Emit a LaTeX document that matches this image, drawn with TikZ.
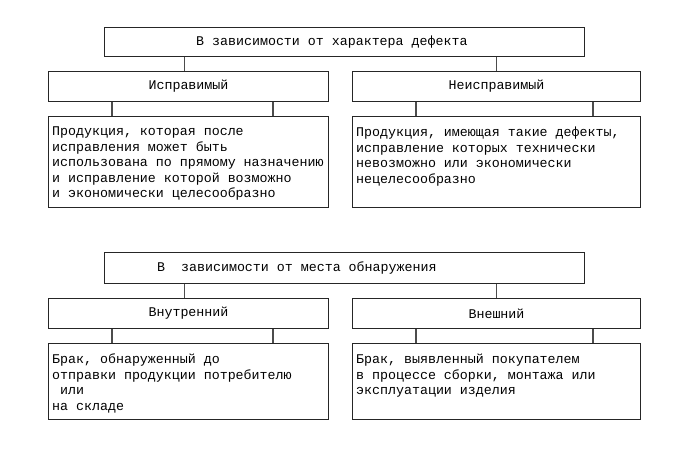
\documentclass[tikz,border=0pt]{standalone}
\usepackage{fontspec}
\setmainfont{Liberation Mono}
\begin{document}
\begin{tikzpicture}[x=1pt,y=-1pt,
  box/.style={draw=black!85,line width=1pt,rectangle,inner sep=0pt,anchor=north west,font=\fontsize{13.3}{15.5}\selectfont},
  conn/.style={draw=black!70,line width=1.4pt},
  txt/.style={inner sep=0pt,align=left,font=\fontsize{13.3}{15.5}\selectfont}]
\useasboundingbox (0,0) rectangle (695,474);
\fill[white] (0,0) rectangle (695,474);
% upper block
\node[box,minimum width=480pt,minimum height=29pt] (t1) at (104,27) {};
\node[txt,anchor=west] (t1txt) at (196,42) {В зависимости от характера дефекта};
\node[box,minimum width=280pt,minimum height=30pt] (a1) at (48,71) {Исправимый};
\node[box,minimum width=288pt,minimum height=30pt] (b1) at (352,71) {Неисправимый};
\node[box,minimum width=280pt,minimum height=91pt] (a2) at (48,116) {};
\node[box,minimum width=288pt,minimum height=91pt] (b2) at (352,116) {};
\node[txt,anchor=north west] (a2txt) at (52,127) {Продукция, которая после\\исправления может быть\\использована по прямому назначению\\и исправление которой возможно\\и экономически целесообразно};
\node[txt,anchor=north west] (b2txt) at (356,127) {Продукция, имеющая такие дефекты,\\исправление которых технически\\невозможно или экономически\\нецелесообразно};
\draw[conn] ([xshift=-4pt]a1.north) -- ([xshift=-4pt]a1.north |- t1.south);
\draw[conn] (b1.north) -- (b1.north |- t1.south);
\draw[conn] ([xshift=64pt]a1.south west) -- ([xshift=64pt]a2.north west);
\draw[conn] ([xshift=-56pt]a1.south east) -- ([xshift=-56pt]a2.north east);
\draw[conn] ([xshift=64pt]b1.south west) -- ([xshift=64pt]b2.north west);
\draw[conn] ([xshift=-48pt]b1.south east) -- ([xshift=-48pt]b2.north east);
% lower block
\node[box,minimum width=480pt,minimum height=31pt] (t2) at (104,252) {};
\node[txt,anchor=west] (t2txt) at (157,268) {В\ \ зависимости от места обнаружения};
\node[box,minimum width=280pt,minimum height=30pt] (c1) at (48,298) {Внутренний};
\node[box,minimum width=288pt,minimum height=30pt] (d1) at (352,298) {Внешний};
\node[box,minimum width=280pt,minimum height=76pt] (c2) at (48,343) {};
\node[box,minimum width=288pt,minimum height=76pt] (d2) at (352,343) {};
\node[txt,anchor=north west] (c2txt) at (52,354) {Брак, обнаруженный до\\отправки продукции потребителю\\\ или\\на складе};
\node[txt,anchor=north west] (d2txt) at (356,354) {Брак, выявленный покупателем\\в процессе сборки, монтажа или\\эксплуатации изделия};
\draw[conn] ([xshift=-4pt]c1.north) -- ([xshift=-4pt]c1.north |- t2.south);
\draw[conn] (d1.north) -- (d1.north |- t2.south);
\draw[conn] ([xshift=64pt]c1.south west) -- ([xshift=64pt]c2.north west);
\draw[conn] ([xshift=-56pt]c1.south east) -- ([xshift=-56pt]c2.north east);
\draw[conn] ([xshift=64pt]d1.south west) -- ([xshift=64pt]d2.north west);
\draw[conn] ([xshift=-48pt]d1.south east) -- ([xshift=-48pt]d2.north east);
\end{tikzpicture}
\end{document}
